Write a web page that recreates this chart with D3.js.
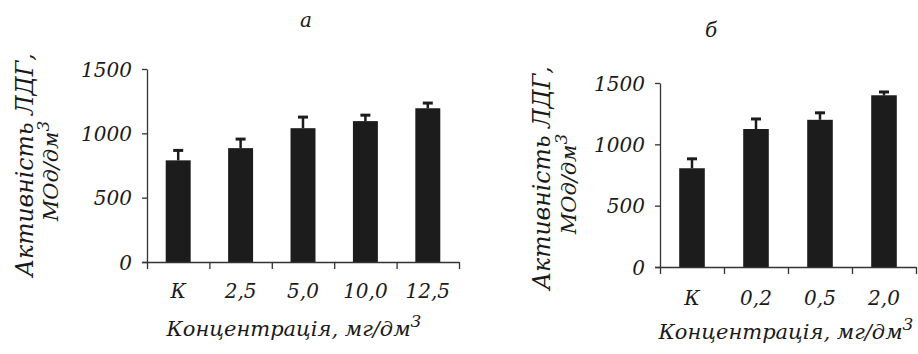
<!DOCTYPE html>
<html>
<head>
<meta charset="utf-8">
<script src="https://cdn.jsdelivr.net/npm/d3@7"></script>
<style>
  html, body { margin: 0; padding: 0; background: #fff; }
  svg { display: block; }
  text { font-family: "DejaVu Serif", "Liberation Serif", serif; font-style: italic; fill: #1a1a1a; }
</style>
</head>
<body>
<svg id="chart" width="918" height="354"></svg>
<script>
// ---- data ----
const categoriesA = ["К", "2,5", "5,0", "10,0", "12,5"];
const valuesA = [790, 885, 1040, 1095, 1195];
const errorsA = [85, 78, 94, 54, 48];

const categoriesB = ["К", "0,2", "0,5", "2,0"];
const valuesB = [805, 1125, 1200, 1400];
const errorsB = [85, 90, 65, 35];

const yTickValues = [0, 500, 1000, 1500];
const yTitle1 = "Активність ЛДГ,";
const yTitle2 = "МОд/дм";
const xTitle = "Концентрація, мг/дм";
const panelLabels = ["а", "б"];

const svg = d3.select("#chart");

function drawPanel(opt) {
  const g = svg.append("g");
  const y = d3.scaleLinear().domain([0, 1500]).range([opt.y0, opt.y1]);
  const x = d3.scaleBand().domain(opt.cats).range([opt.x0, opt.x1])
    .paddingInner(0.6).paddingOuter(0.3);
  const xb = d3.scaleLinear().domain([0, opt.cats.length]).range([opt.x0, opt.x1]);

  // bars
  const data = opt.cats.map((c, i) => ({ c, v: opt.vals[i], e: opt.errs[i] }));
  g.selectAll("rect.bar").data(data).enter().append("rect")
    .attr("class", "bar")
    .attr("x", d => x(d.c))
    .attr("width", x.bandwidth())
    .attr("y", d => y(d.v))
    .attr("height", d => y(0) - y(d.v))
    .attr("fill", "#1c1c1c");

  // error bars
  g.selectAll("line.err").data(data).enter().append("line")
    .attr("x1", d => x(d.c) + x.bandwidth() / 2)
    .attr("x2", d => x(d.c) + x.bandwidth() / 2)
    .attr("y1", d => y(d.v))
    .attr("y2", d => y(d.v + d.e))
    .attr("stroke", "#1c1c1c").attr("stroke-width", 2.5);
  g.selectAll("line.cap").data(data).enter().append("line")
    .attr("x1", d => x(d.c) + x.bandwidth() / 2 - 5)
    .attr("x2", d => x(d.c) + x.bandwidth() / 2 + 5)
    .attr("y1", d => y(d.v + d.e) + 1)
    .attr("y2", d => y(d.v + d.e) + 1)
    .attr("stroke", "#1c1c1c").attr("stroke-width", 3);

  // y axis
  const ya = g.append("g").attr("transform", `translate(${opt.x0},0)`)
    .call(d3.axisLeft(y).tickValues(yTickValues).tickFormat(d3.format("d"))
      .tickSize(5).tickSizeOuter(0).tickPadding(10));
  ya.selectAll("path, line").attr("stroke", "#333").attr("stroke-width", 1.3);
  ya.selectAll("text").attr("font-size", 20).attr("font-family", null).attr("fill", "#1a1a1a")
    .attr("dy", "0.36em");

  // x axis with boundary ticks
  const xa = g.append("g").attr("transform", `translate(0,${opt.y0})`)
    .call(d3.axisBottom(xb).tickValues(d3.range(opt.cats.length + 1)).tickFormat("").tickSize(7).tickSizeOuter(0));
  xa.selectAll("path, line").attr("stroke", "#333").attr("stroke-width", 1.3);
  xa.select("path").attr("d", `M${opt.x0 - 5},0.5H${opt.x1}`);

  // x labels
  const xl = g.append("g").attr("transform", `translate(0,${opt.y0})`)
    .call(d3.axisBottom(x).tickSize(0).tickPadding(0));
  xl.select("path").remove();
  xl.selectAll("text").attr("font-size", 20).attr("font-family", null).attr("fill", "#1a1a1a")
    .attr("y", opt.labelDy).attr("dy", 0);

  // y title
  g.append("text")
    .attr("transform", `translate(${opt.yt1x},${opt.ytcy}) rotate(-90)`)
    .attr("text-anchor", "middle").attr("font-size", 23.5).text(yTitle1);
  const yt2 = g.append("text")
    .attr("transform", `translate(${opt.yt2x},${opt.ytcy + 6}) rotate(-90)`)
    .attr("text-anchor", "middle").attr("font-size", 21);
  yt2.append("tspan").text(yTitle2);
  yt2.append("tspan").attr("dy", -9).attr("font-size", 17).text("3");

  // x title
  const xt = g.append("text").attr("x", opt.xtcx).attr("y", opt.xty)
    .attr("text-anchor", "middle").attr("font-size", 21);
  xt.append("tspan").text(xTitle);
  xt.append("tspan").attr("dy", -9).attr("font-size", 17).text("3");

  // panel label
  g.append("text").attr("x", opt.plx).attr("y", opt.ply)
    .attr("text-anchor", "middle").attr("font-size", 20).text(opt.pl);
}

drawPanel({
  cats: categoriesA, vals: valuesA, errs: errorsA,
  x0: 147, x1: 459, y0: 262, y1: 69, labelDy: 36,
  yt1x: 33, yt2x: 58, ytcy: 165, xtcx: 294, xty: 336,
  plx: 306, ply: 27, pl: panelLabels[0]
});
drawPanel({
  cats: categoriesB, vals: valuesB, errs: errorsB,
  x0: 660, x1: 916, y0: 267, y1: 83, labelDy: 38,
  yt1x: 550, yt2x: 576, ytcy: 178, xtcx: 786, xty: 339,
  plx: 711, ply: 37, pl: panelLabels[1]
});
</script>
</body>
</html>
